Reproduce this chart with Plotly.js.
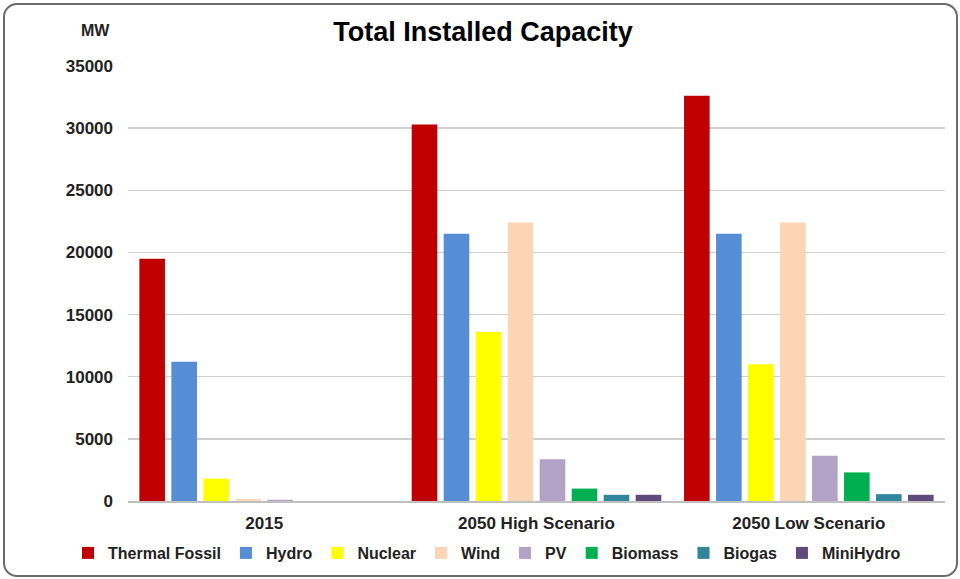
<!DOCTYPE html>
<html><head><meta charset="utf-8">
<script src="https://cdn.plot.ly/plotly-3.0.1.min.js"></script>
<style>
html,body{margin:0;padding:0;background:#fff;}
#wrap{position:relative;width:960px;height:579px;}
#chart{width:960px;height:579px;}
#frame{position:absolute;left:3px;top:3px;width:951px;height:570px;border:2px solid #6b6b6b;border-radius:14px;pointer-events:none;}
</style>
</head><body>
<div id="wrap"><div id="chart"></div><div id="frame"></div></div>
<script>
const categories = ["2015", "2050 High Scenario", "2050 Low Scenario"];
const seriesNames = ["Thermal Fossil", "Hydro", "Nuclear", "Wind", "PV", "Biomass", "Biogas", "MiniHydro"];
const thermalFossil = [19500, 30300, 32600];
const hydro = [11200, 21500, 21500];
const nuclear = [1800, 13600, 11000];
const wind = [150, 22400, 22400];
const pv = [100, 3350, 3650];
const biomass = [0, 1000, 2300];
const biogas = [0, 500, 550];
const miniHydro = [0, 500, 500];
const yTicks = [0, 5000, 10000, 15000, 20000, 25000, 30000, 35000];

const values = [thermalFossil, hydro, nuclear, wind, pv, biomass, biogas, miniHydro];
const colors = ["#c00000", "#558ed5", "#ffff00", "#fcd5b5", "#b3a2c7", "#00b050", "#31859c", "#604a7b"];

const traces = seriesNames.map((n, i) => ({
  type: "bar", name: "<b>" + n + "</b>", x: categories, y: values[i],
  marker: {color: colors[i]}, hoverinfo: "y"
}));

const F = "Liberation Sans, Arial, sans-serif";
const layout = {
  width: 960, height: 579,
  margin: {l: 128, r: 15, t: 66, b: 78, autoexpand: false},
  paper_bgcolor: "#fff", plot_bgcolor: "#fff",
  barmode: "group", bargap: 0.06, bargroupgap: 0.2,
  title: {text: "<b>Total Installed Capacity</b>", font: {family: F, size: 27, color: "#000"}, x: 483/960, xref: "container", xanchor: "center", y: 1 - 32/579, yref: "container", yanchor: "middle"},
  xaxis: {type: "category", tickvals: categories, ticktext: categories.map(c => "<b>" + c + "</b>"), tickfont: {family: F, size: 17, color: "#222"}, showline: true, linecolor: "#bfbfbf", linewidth: 1.5, ticks: "", ticklabelstandoff: 6, automargin: false},
  yaxis: {range: [0, 35000], tickvals: yTicks, ticktext: yTicks.map(v => "<b>" + v + "</b>"), tickfont: {family: F, size: 17, color: "#222"}, gridcolor: "#cfcfcf", gridwidth: 1.3, zeroline: false, showline: false, ticks: "", ticklabelstandoff: 14, automargin: false},
  showlegend: true,
  legend: {orientation: "h", xref: "paper", x: (68 - 128) / 817, xanchor: "left", yref: "paper", y: (501 - 553) / 435, yanchor: "middle", bgcolor: "rgba(0,0,0,0)", font: {family: F, size: 16, color: "#222"}, itemwidth: 30, traceorder: "normal"},
  annotations: [{text: "<b>MW</b>", xref: "paper", yref: "paper", x: (112 - 128) / 817, y: (501 - 30) / 435, xanchor: "right", yanchor: "middle", showarrow: false, font: {family: F, size: 16, color: "#222"}}]
};
Plotly.newPlot("chart", traces, layout, {displayModeBar: false, staticPlot: true});
</script>
</body></html>
